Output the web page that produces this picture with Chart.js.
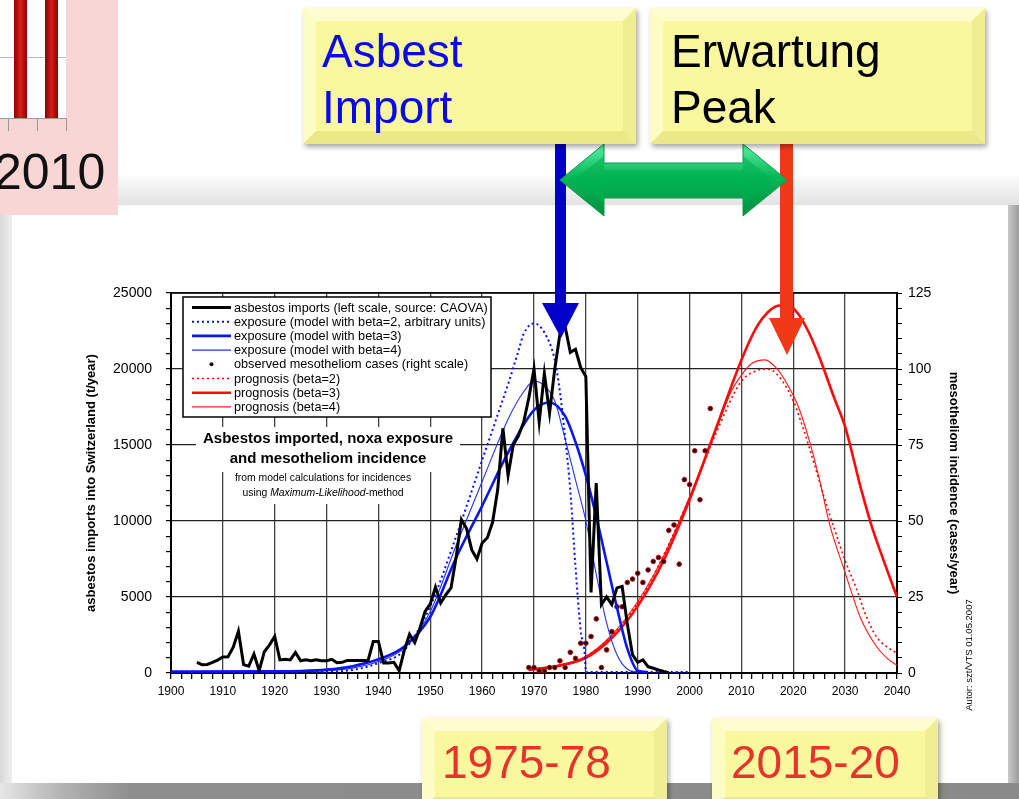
<!DOCTYPE html>
<html>
<head>
<meta charset="utf-8">
<script src="https://cdn.jsdelivr.net/npm/chart.js@4.4.1/dist/chart.umd.min.js"></script>
<style>
  html, body { margin: 0; padding: 0; }
  body { width: 1019px; height: 799px; position: relative; overflow: hidden; background: #fff;
         font-family: "Liberation Sans", Arial, sans-serif; }
  .abs { position: absolute; }
  #band { left: 0; top: 176px; width: 1019px; height: 32px; background: linear-gradient(#fbfbfb, #e0e0e0); }
  #leftStrip { left: 0; top: 205px; width: 12px; height: 580px; background: linear-gradient(90deg, #d8d8d8, #efefef); }
  #rightStrip { left: 1008px; top: 205px; width: 11px; height: 594px; background: linear-gradient(90deg, #c8c8c8, #9c9c9c); }
  #bottomStrip { left: 0; top: 783px; width: 1019px; height: 16px; background: linear-gradient(90deg, #e6e6e6 0, #b4b4b4 60px, #8e8e8e 130px, #8a8a8a); }
  #panel { left: 12px; top: 205px; width: 996px; height: 578px; background: #fff; }
  #chartCanvas { position: absolute; left: 12px; top: 205px; z-index: 2; }
  #arrows { left: 0; top: 0; z-index: 3; }
  .ybox { position: absolute; box-sizing: border-box; border: 13px solid; z-index: 4;
          border-color: #fdfdcf #f0ee92 #ebe888 #fcfcc4; background: #f9f89f;
          box-shadow: 2px 3px 5px rgba(0,0,0,0.35); }
  .btxt { position: absolute; z-index: 5; font-size: 46px; line-height: 56px; white-space: nowrap; }
  #pink { left: 0; top: 0; width: 118px; height: 215px; background: #f8d6d6; z-index: 1; overflow: hidden; }
  #autor { z-index: 5; font-size: 9.5px; white-space: nowrap; transform: translate(-50%, -50%) rotate(-90deg);
           left: 968px; top: 655px; color: #000; }
</style>
</head>
<body>
<div id="band" class="abs"></div>
<div id="leftStrip" class="abs"></div>
<div id="rightStrip" class="abs"></div>
<div id="bottomStrip" class="abs"></div>
<div id="panel" class="abs"></div>

<div id="pink" class="abs">
  <div class="abs" style="left:0;top:0;width:66px;height:118px;background:#fff;"></div>
  <div class="abs" style="left:0;top:57px;width:66px;height:1px;background:#bdbdbd;"></div>
  <div class="abs" style="left:14px;top:0;width:13px;height:118px;background:linear-gradient(90deg,#8a0000,#d81c1c,#8a0000);"></div>
  <div class="abs" style="left:45px;top:0;width:13px;height:118px;background:linear-gradient(90deg,#8a0000,#d81c1c,#8a0000);"></div>
  <div class="abs" style="left:0;top:118px;width:67px;height:1px;background:#999;"></div>
  <div class="abs" style="left:8px;top:118px;width:1px;height:13px;background:#999;"></div>
  <div class="abs" style="left:37px;top:118px;width:1px;height:13px;background:#999;"></div>
  <div class="abs" style="left:66px;top:118px;width:1px;height:13px;background:#999;"></div>
  <div class="abs" style="left:-6px;top:143px;font-size:50px;line-height:58px;color:#111;">2010</div>
</div>

<canvas id="chartCanvas" width="996" height="578"></canvas>

<svg id="arrows" class="abs" width="1019" height="799" style="z-index:3;">
  <defs>
    <linearGradient id="gg" x1="0" y1="0" x2="0" y2="1">
      <stop offset="0" stop-color="#5af0a6"/>
      <stop offset="0.45" stop-color="#06b858"/>
      <stop offset="1" stop-color="#00903e"/>
    </linearGradient>
  </defs>
  <rect x="555" y="143" width="11" height="162" fill="#0000c8"/>
  <polygon points="542,303 579,303 561,338" fill="#0000c8"/>
  <rect x="780" y="143" width="13" height="177" fill="#f03a17"/>
  <polygon points="769,318 805,318 787,355" fill="#f03a17"/>
  <polygon points="560,180 604,144 604,163 743,163 743,144 787,180 743,216 743,198 604,198 604,216"
           fill="url(#gg)" stroke="#0a9a4a" stroke-width="1"/>
  <polygon points="574,180 604,156 604,170 743,170 743,156 773,180 743,204 743,190 604,190 604,204"
           fill="#00b050" opacity="0.55"/>
</svg>

<div class="ybox" style="left:303px;top:8px;width:333px;height:136px;"></div>
<div class="btxt" style="left:322px;top:23px;color:#0a0ae6;">Asbest<br>Import</div>
<div class="ybox" style="left:650px;top:8px;width:335px;height:136px;"></div>
<div class="btxt" style="left:671px;top:23px;color:#000;">Erwartung<br>Peak</div>
<div class="ybox" style="left:422px;top:718px;width:245px;height:92px;"></div>
<div class="btxt" style="left:442px;top:734px;color:#e8332a;">1975-78</div>
<div class="ybox" style="left:712px;top:718px;width:226px;height:92px;"></div>
<div class="btxt" style="left:731px;top:734px;color:#e8332a;">2015-20</div>
<div id="autor" class="abs">Autor: szt/VTS 01.05.2007</div>

<script>
// asbestos imports into Switzerland, t/year (left scale)
const importYears = [
  1905,1906,1907,1908,1909,1910,1911,1912,1913,1914,1915,1916,1917,1918,1919,
  1920,1921,1922,1923,1924,1925,1926,1927,1928,1929,1930,1931,1932,1933,1934,
  1935,1936,1937,1938,1939,1940,1941,1942,1943,1944,1945,1946,1947,1948,1949,
  1950,1951,1952,1953,1954,1955,1956,1957,1958,1959,1960,1961,1962,1963,1964,
  1965,1966,1967,1968,1969,1970,1971,1972,1973,1974,1975,1976,1977,1978,1979,
  1980,1981,1982,1983,1984,1985,1986,1987,1988,1989,1990,1991,1992,1993,1994,
  1995,1996];
const importTons = [
  700,550,560,700,850,1050,1070,1700,2750,550,450,1250,150,1400,1850,
  2400,860,900,860,1350,800,870,800,870,800,800,900,670,700,830,
  830,830,830,830,2070,2070,660,660,700,150,1500,2550,2000,2950,4050,
  4550,5650,4600,5150,5600,7650,10100,9500,8100,7500,8550,8900,9900,12050,16100,
  13000,15000,15600,16500,18100,20000,16500,19700,17100,20000,22300,22800,21100,21300,20100,
  19500,5300,12500,4500,5000,4500,5600,5700,3200,1200,700,860,420,310,200,
  100,20];

// model exposure curves (arbitrary units, left scale)
const expoB2Years = [1900,1930,1935,1940,1945,1950,1955,1960,1963,1965,1967,1968,1970,1972,1974,1975,1976,1977,1978,1979,1979.8,1980,2000];
const expoB2 =      [90,90,200,650,1500,4400,9000,14000,17000,19000,21200,22300,23000,22400,20600,18500,15500,12000,7000,2800,1200,60,60];
const expoB3Years = [1900,1920,1925,1930,1935,1940,1945,1950,1955,1960,1965,1970,1973,1976,1978,1980,1982,1984,1986,1988,1990,1992];
const expoB3 =      [100,110,130,220,450,900,1750,3700,7600,11000,14500,17300,17800,16900,15200,13000,10300,7300,4300,1600,150,60];
const expoB4Years = [1900,1925,1930,1935,1940,1945,1950,1955,1960,1965,1968,1970,1972,1974,1976,1978,1980,1982,1984,1986,1988,1990];
const expoB4 =      [100,100,150,320,750,1650,4050,8400,12600,16700,18500,19200,18900,17900,15400,12700,10000,6500,3300,1200,250,60];

// observed mesothelioma cases per year (right scale)
const caseYears = [1969,1970,1971,1972,1973,1974,1975,1976,1977,1978,1979,1980,1981,1982,1983,1984,1985,1986,
                   1987,1988,1989,1990,1991,1992,1993,1994,1995,1996,1997,1998,1999,2000,2001,2002,2003,2004];
const cases =     [1.8,1.8,0.7,0.7,1.8,1.8,4.0,1.8,6.8,4.8,9.8,9.8,12,17.8,1.8,7.6,13.6,21.8,
                   21.8,29.8,30.9,32.8,29.8,33.9,36.7,38,36.7,46.9,48.7,35.8,63.6,62,73.1,57,73.1,87];

// prognosis curves (right scale)
const progB2Years = [1969,1980,1990,2000,2005,2010,2013,2015,2017,2020,2022,2024,2026,2028,2030,2032,2034,2036,2038,2040];
const progB2 =      [1,5.3,23,57.5,78.5,96,99.5,100,98,89.5,80,69,57.5,47,37,28.5,19,12,8.7,6.5];
const progB3Years = [1969,1975,1980,1985,1990,1995,2000,2005,2010,2013,2015,2017,2019,2021,2023,2025,2028,2030,2033,2035,2037,2040];
const progB3 =      [1,2.5,5,11.5,22,37,57,80,103,114,118.5,120.8,121,118,112,104,90,81,61,49,39,25];
const progB4Years = [1969,1975,1980,1985,1990,1995,2000,2005,2008,2010,2012,2014.5,2017,2019,2021,2023,2025,2027,2030,2033,2036,2038,2040];
const progB4 =      [1,2.7,5.5,12.5,23.5,38.5,58,79.5,92.5,98,101.8,103,99.8,94.5,87.5,77,64,49,33,18,8.8,5,2.5];

const titleLines = ['Asbestos imported, noxa exposure', 'and mesotheliom incidence'];
const subLine = 'from model calculations for incidences';

const pts = (xs, ys) => xs.map((x, i) => ({ x: x, y: ys[i] }));
const FONT = '"Liberation Sans", Arial, sans-serif';
Chart.defaults.font.family = FONT;
Chart.defaults.color = '#000';

// legend box + title text inside the plot
const insidePlot = {
  id: 'insidePlot',
  beforeDatasetsDraw(chart) {
    const { ctx, chartArea: a } = chart;
    const cx = a.left + 157;
    ctx.save();
    ctx.font = 'bold 15px ' + FONT;
    const w1 = Math.max(ctx.measureText(titleLines[0]).width, ctx.measureText(titleLines[1]).width);
    ctx.fillStyle = '#fff';
    ctx.fillRect(cx - w1 / 2 - 7, a.top + 134, w1 + 14, 45);
    ctx.font = '10.4px ' + FONT;
    const w2 = ctx.measureText(subLine).width;
    ctx.fillRect(cx - w2 / 2 - 12, a.top + 178, w2 + 24, 33);

    ctx.fillStyle = '#000';
    ctx.textAlign = 'center';
    ctx.textBaseline = 'middle';
    ctx.font = 'bold 15px ' + FONT;
    ctx.fillText(titleLines[0], cx, a.top + 146);
    ctx.fillText(titleLines[1], cx, a.top + 166);
    ctx.font = '10.4px ' + FONT;
    ctx.fillText(subLine, cx - 5, a.top + 185);
    // "using Maximum-Likelihood-method" with italic middle part
    const p1 = 'using ', p2 = 'Maximum-Likelihood', p3 = '-method';
    ctx.font = '10.4px ' + FONT;
    const wa = ctx.measureText(p1).width, wc = ctx.measureText(p3).width;
    ctx.font = 'italic 10.4px ' + FONT;
    const wb = ctx.measureText(p2).width;
    let x = cx - 5 - (wa + wb + wc) / 2;
    ctx.textAlign = 'left';
    ctx.font = '10.4px ' + FONT; ctx.fillText(p1, x, a.top + 200); x += wa;
    ctx.font = 'italic 10.4px ' + FONT; ctx.fillText(p2, x, a.top + 200); x += wb;
    ctx.font = '10.4px ' + FONT; ctx.fillText(p3, x, a.top + 200);
    ctx.restore();
  },
  afterDatasetsDraw(chart) {
    const { ctx, chartArea: a } = chart;
    ctx.save();
    // top frame line
    ctx.strokeStyle = '#000';
    ctx.lineWidth = 1.5;
    ctx.beginPath(); ctx.moveTo(a.left, a.top); ctx.lineTo(a.right, a.top); ctx.stroke();

    const bx = a.left + 12, by = a.top + 4, bw = 308, bh = 120;
    ctx.fillStyle = '#fff';
    ctx.fillRect(bx, by, bw, bh);
    ctx.lineWidth = 1.5;
    ctx.strokeRect(bx, by, bw, bh);
    ctx.font = '12.7px ' + FONT;
    ctx.textBaseline = 'middle';
    chart.data.datasets.forEach((ds, i) => {
      const y = by + 10.5 + i * 14.2;
      const x0 = bx + 9, x1 = bx + 48;
      if (ds.showLine === false) {
        ctx.fillStyle = ds.pointBackgroundColor;
        ctx.beginPath(); ctx.arc((x0 + x1) / 2, y, 2, 0, Math.PI * 2); ctx.fill();
      } else {
        ctx.strokeStyle = ds.borderColor;
        ctx.lineWidth = ds.borderWidth;
        ctx.setLineDash(ds.borderDash || []);
        ctx.beginPath(); ctx.moveTo(x0, y); ctx.lineTo(x1, y); ctx.stroke();
        ctx.setLineDash([]);
      }
      ctx.fillStyle = '#000';
      ctx.fillText(ds.label, bx + 51, y + 0.5);
    });
    ctx.restore();
  }
};

const curve = { pointRadius: 0, cubicInterpolationMode: 'monotone', fill: false };

new Chart(document.getElementById('chartCanvas'), {
  type: 'line',
  data: {
    datasets: [
      { label: 'asbestos imports (left scale, source: CAOVA)', data: pts(importYears, importTons),
        borderColor: '#000', borderWidth: 3, pointRadius: 0, tension: 0, yAxisID: 'y' },
      { label: 'exposure (model with beta=2, arbitrary units)', data: pts(expoB2Years, expoB2),
        borderColor: '#0010ff', borderWidth: 2, borderDash: [2, 3], yAxisID: 'y', ...curve },
      { label: 'exposure (model with beta=3)', data: pts(expoB3Years, expoB3),
        borderColor: '#0a16f0', borderWidth: 2.6, yAxisID: 'y', ...curve },
      { label: 'exposure (model with beta=4)', data: pts(expoB4Years, expoB4),
        borderColor: '#2233ff', borderWidth: 1.1, yAxisID: 'y', ...curve },
      { label: 'observed mesotheliom cases (right scale)', data: pts(caseYears, cases),
        showLine: false, pointRadius: 2.3, pointBorderWidth: 1, pointBackgroundColor: '#2a0000',
        pointBorderColor: '#b01010', yAxisID: 'y2' },
      { label: 'prognosis (beta=2)', data: pts(progB2Years, progB2),
        borderColor: '#ff0000', borderWidth: 1.6, borderDash: [2, 3], yAxisID: 'y2', ...curve },
      { label: 'prognosis (beta=3)', data: pts(progB3Years, progB3),
        borderColor: '#ff0a0a', borderWidth: 2.6, yAxisID: 'y2', ...curve },
      { label: 'prognosis (beta=4)', data: pts(progB4Years, progB4),
        borderColor: '#ff1a1a', borderWidth: 1.1, yAxisID: 'y2', ...curve }
    ]
  },
  options: {
    responsive: false,
    animation: false,
    events: [],
    layout: { padding: { top: 88, left: 0, right: 0, bottom: 0 } },
    plugins: { legend: { display: false }, tooltip: { enabled: false } },
    scales: {
      x: {
        type: 'linear', min: 1900, max: 2040,
        afterFit: s => { s.height = 110; },
        ticks: { stepSize: 2, autoSkip: false, maxRotation: 0, padding: 5, font: { size: 12 },
                 callback: v => (v % 10 === 0 ? String(v) : '') },
        grid: { color: c => (c.tick && c.tick.value % 10 === 0 ? '#444' : 'rgba(0,0,0,0)'),
                lineWidth: 1.3, tickLength: 6, tickColor: '#000' },
        border: { display: true, color: '#000', width: 2 }
      },
      y: {
        position: 'left', min: 0, max: 25000,
        afterFit: s => { s.width = 159; },
        ticks: { stepSize: 1000, autoSkip: false, padding: 14, font: { size: 14 },
                 callback: v => (v % 5000 === 0 ? String(v) : '') },
        grid: { color: c => (c.tick && c.tick.value % 5000 === 0 ? '#222' : 'rgba(0,0,0,0)'),
                lineWidth: 1.2, tickLength: 5, tickColor: '#000' },
        border: { display: true, color: '#000', width: 2 },
        title: { display: true, text: 'asbestos imports into Switzerland (t/year)',
                 font: { size: 13, weight: 'bold' }, padding: { top: 72, bottom: 0 } }
      },
      y2: {
        position: 'right', min: 0, max: 125,
        afterFit: s => { s.width = 111; },
        ticks: { stepSize: 5, autoSkip: false, padding: 6, font: { size: 14 },
                 callback: v => (v % 25 === 0 ? String(v) : '') },
        grid: { drawOnChartArea: false, tickLength: 5, tickColor: '#000' },
        border: { display: true, color: '#000', width: 2 },
        title: { display: true, text: 'mesotheliom incidence (cases/year)',
                 font: { size: 13, weight: 'bold' }, padding: { top: 47, bottom: 0 } }
      }
    }
  },
  plugins: [insidePlot]
});
</script>
</body>
</html>
